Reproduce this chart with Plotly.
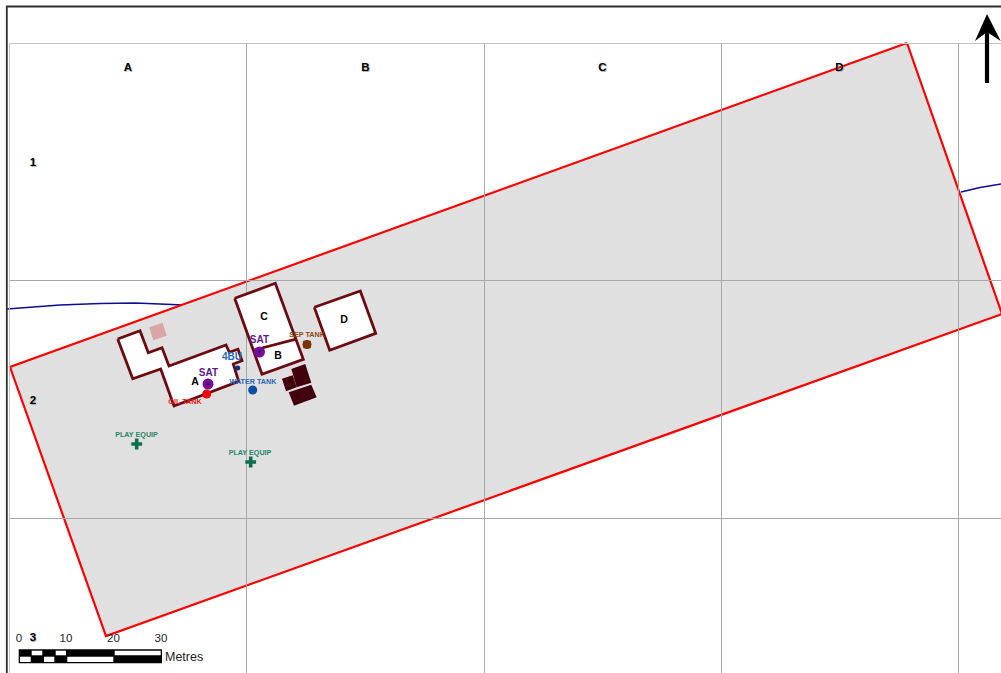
import plotly.graph_objects as go

W, H = 1001, 673

# Map geometry, in map units measured from the top-left of the sheet
grid_x = [246.5, 484.5, 721.5, 958.5]
grid_y = [280.5, 518.5]
frame_x = 9.5
frame_y = 43.5

parcel = [(907, 43), (10, 367), (106, 636), (1002, 314)]
stream_left = [(7, 309), (60, 305), (100, 303.5), (135, 303), (160, 304), (183, 305)]
stream_right = [(961, 192), (980, 187.5), (1001, 184)]

building_a = [(117.7, 339), (140, 330.7), (148.3, 352.7), (162, 347.7), (169, 366), (226, 345),
              (229.3, 352.3), (238, 349.3), (242, 360.7), (233.3, 364), (238.7, 381.3),
              (174, 406), (160.7, 369), (132.7, 378.7)]
building_c = [(234.7, 298.3), (275.3, 283.3), (303.3, 359.3), (262, 374.3)]
partition_b = [(254.3, 350), (295, 339.3)]
building_d = [(314.3, 307.3), (360.3, 291), (375.7, 333.3), (329.7, 350.3)]
sheds = [
    [(282, 378.7), (292.7, 375.3), (296.7, 387.3), (286, 391.3)],
    [(291.3, 369), (305.3, 364), (311.3, 382.7), (296.7, 387.3)],
    [(288.7, 392.3), (311.3, 384.7), (316.7, 397.3), (294, 405.7)],
]
pink_square = [(149.3, 327.3), (162.7, 322.7), (166.7, 335.7), (153.3, 340.3)]

sat_points = [(208, 384), (259.5, 352)]
oil_tank = (206.7, 394)
water_tank = (252.7, 390)
bu_point = (237.7, 368)
sep_tank = (307, 344.5)
play_points = [(136.7, 444), (250.7, 462)]

# Text labels
col_labels = [(128, 68, "A"), (365.5, 68, "B"), (602.5, 68, "C"), (839.5, 68, "D")]
row_labels = [(33, 163, "1"), (33, 401, "2"), (33, 638, "3")]
building_labels = [(195, 382, "A"), (278, 356.5, "B"), (264, 317.5, "C"), (344, 320.5, "D")]
feature_labels = [
    (208.5, 373.5, "SAT", "#5b1a8c", 10),
    (259.5, 340.5, "SAT", "#5b1a8c", 10),
    (232, 357.5, "4BU", "#2a66b8", 10),
    (253, 382, "WATER TANK", "#2a66b8", 7.2),
    (307, 335, "SEP TANK", "#8a4a14", 7.2),
    (185, 402.5, "OIL TANK", "#f01818", 7.2),
    (136.5, 435.5, "PLAY EQUIP", "#2c8468", 7.2),
    (250, 453, "PLAY EQUIP", "#2c8468", 7.2),
]

# Scale bar
scale_box = (18.7, 649.3, 162, 663.3)
scale_top = [(31.7, 42.3), (55.7, 66), (114.7, 160.7)]
scale_bottom = [(20, 30.7), (44, 54.3), (67.3, 113.3)]
scale_labels = [(19, "0"), (66, "10"), (113.5, "20"), (161, "30")]

# North arrow
arrow_head = [(987, 14), (1000.7, 41), (987, 32), (975, 41)]
arrow_shaft = [(987, 30), (987, 83)]

fig = go.Figure()


def poly(pts, fill=None, line=None, width=0, close=True):
    p = list(pts) + ([pts[0]] if close else [])
    fig.add_trace(go.Scatter(
        x=[a for a, _ in p], y=[b for _, b in p], mode="lines",
        fill="toself" if fill else "none", fillcolor=fill,
        line=dict(color=line or "rgba(0,0,0,0)", width=width, shape="linear"),
        hoverinfo="skip", showlegend=False))


def label(items, color="#000", size=11, bold=False):
    fig.add_trace(go.Scatter(
        x=[i[0] for i in items], y=[i[1] for i in items], text=[i[2] for i in items],
        mode="text", textposition="middle center", cliponaxis=False,
        textfont=dict(family="Liberation Sans", size=size, color=color,
                      weight="bold" if bold else "normal"),
        hoverinfo="skip", showlegend=False))


# Stream, parcel, grid
poly(stream_left, line="#0c0c96", width=1.5, close=False)
poly(stream_right, line="#0c0c96", width=1.5, close=False)
poly(parcel, fill="#e0e0e0", line="#ff0000", width=2.2)
for gx in grid_x:
    poly([(gx, frame_y), (gx, H)], line="#a8a8a8", width=1, close=False)
for gy in grid_y:
    poly([(frame_x, gy), (W, gy)], line="#a8a8a8", width=1, close=False)
poly([(W, frame_y), (frame_x, frame_y), (frame_x, H)], line="#c4c4c4", width=1, close=False)
poly([(W, 6.5), (6.8, 6.5), (6.8, H)], line="#303030", width=1.8, close=False)

# Buildings
poly(pink_square, fill="#d9a5a5")
for b in (building_a, building_c, building_d):
    poly(b, fill="#ffffff", line="#6b0a10", width=2.8)
poly(partition_b, line="#6b0a10", width=2.8, close=False)
for s in sheds:
    poly(s, fill="#42000f")


def marker(points, color, size, symbol="circle"):
    fig.add_trace(go.Scatter(
        x=[p[0] for p in points], y=[p[1] for p in points], mode="markers",
        marker=dict(color=color, size=size, symbol=symbol, line=dict(width=0)),
        hoverinfo="skip", showlegend=False))


marker([oil_tank], "#ee0a0a", 9)
marker(sat_points, "#7a0a9c", 11)
marker(sat_points, "#101030", 2.5)
marker([water_tank], "#0a4ea8", 9)
marker([bu_point], "#10307a", 5)
marker([sep_tank], "#7a3208", 7.5, "square")
marker([sep_tank], "#7a3208", 9)
marker(play_points, "#0b6e50", 9, "cross")

# Labels
label([(x + 0.7, y + 0.7, t) for x, y, t in col_labels + row_labels], "#b0b0b0", 11.5, True)
label(col_labels + row_labels, "#000", 11.5, True)
label(building_labels, "#000", 10.5, True)
for x, y, t, c, s in feature_labels:
    label([(x, y, t)], c, s, True)

# Scale bar
x0, y0, x1, y1 = scale_box
poly([(x0, y0), (x1, y0), (x1, y1), (x0, y1)], fill="#000000")
for a, b in scale_top:
    poly([(a, 650.7), (b, 650.7), (b, 655.3), (a, 655.3)], fill="#ffffff")
for a, b in scale_bottom:
    poly([(a, 656.7), (b, 656.7), (b, 662), (a, 662)], fill="#ffffff")
label([(x, 639, t) for x, t in scale_labels], "#222", 11.5)
fig.add_trace(go.Scatter(x=[165], y=[658], text=["Metres"], mode="text", textposition="middle right",
                         textfont=dict(family="Liberation Sans", size=12.5, color="#222"),
                         hoverinfo="skip", showlegend=False))

# North arrow
poly(arrow_shaft, line="#000", width=4.2, close=False)
poly(arrow_head, fill="#000000")

fig.update_layout(
    width=W, height=H, autosize=False, margin=dict(l=0, r=0, t=0, b=0),
    paper_bgcolor="#ffffff", plot_bgcolor="#ffffff", showlegend=False,
    xaxis=dict(range=[0, W], visible=False, fixedrange=True),
    yaxis=dict(range=[H, 0], visible=False, fixedrange=True),
)
fig.add_annotation(x=516, y=-3, text="(", showarrow=False, yanchor="middle",
                   font=dict(family="Liberation Sans", size=12, color="#222"))
fig.add_annotation(x=562, y=-3, text=")", showarrow=False, yanchor="middle",
                   font=dict(family="Liberation Sans", size=12, color="#222"))
fig.write_html("out.html", config=dict(displayModeBar=False),
               post_script="document.body.style.margin='0';document.body.style.overflow='hidden';")
